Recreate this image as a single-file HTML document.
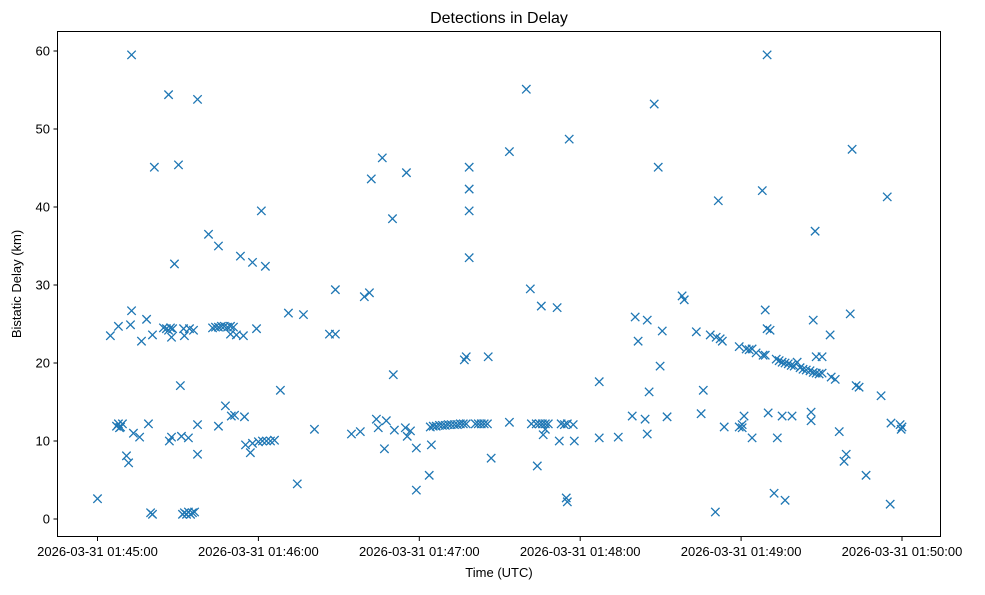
<!DOCTYPE html>
<html><head><meta charset="utf-8"><style>
html,body{margin:0;padding:0;background:#fff;}
svg text{font-family:"Liberation Sans","DejaVu Sans",sans-serif;fill:#000;}
</style></head><body>
<svg id="chart" width="985" height="590" viewBox="0 0 985 590" xmlns="http://www.w3.org/2000/svg">
<rect width="985" height="590" fill="#fff"/>
<text x="499" y="23" font-size="16" text-anchor="middle">Detections in Delay</text>
<g id="marks"></g>
<rect x="57.5" y="31.5" width="883" height="505" fill="none" stroke="#000" stroke-width="1"/>
<g id="xticks"></g>
<g id="yticks"></g>
<text x="499" y="577" font-size="13" text-anchor="middle">Time (UTC)</text>
<text x="0" y="0" font-size="13" text-anchor="middle" transform="translate(21,284) rotate(-90)">Bistatic Delay (km)</text>
</svg>
<script>
// seconds after 2026-03-31 01:45:00
const times = [0.0,4.8,7.8,7.1,7.8,8.6,9.3,8.2,10.8,11.6,12.7,12.7,12.3,13.4,15.7,16.4,18.3,19.0,19.8,20.5,21.2,20.5,24.6,25.7,26.5,27.2,28.0,26.5,26.8,27.6,27.6,28.7,30.2,30.9,31.3,32.1,32.4,31.7,32.4,33.2,33.9,34.7,35.4,36.2,33.9,34.3,35.8,37.3,37.3,37.3,41.4,42.9,44.0,45.1,46.2,47.3,48.5,49.6,50.7,45.1,45.1,47.7,49.6,49.9,51.1,51.8,53.3,54.4,54.8,55.2,57.0,57.8,57.8,59.3,60.0,61.1,61.5,63.0,64.5,66.0,62.6,68.2,71.2,74.5,76.8,80.9,86.5,88.7,88.7,94.7,98.0,99.5,101.4,102.1,104.0,104.7,106.2,107.0,107.7,110.0,110.3,110.7,115.2,114.8,115.5,116.7,118.9,118.9,123.7,124.5,124.1,125.2,126.3,127.5,128.6,129.7,130.8,131.9,133.1,134.2,135.3,136.4,137.5,136.8,137.5,138.6,138.6,138.6,138.6,140.9,142.0,143.1,144.2,145.4,145.7,146.8,153.6,153.6,159.9,161.4,161.8,164.0,163.6,164.8,165.9,167.0,168.1,165.5,166.2,167.0,171.4,172.2,172.9,174.1,175.2,177.4,174.8,175.2,175.9,177.8,187.1,187.1,194.2,199.4,200.5,201.6,204.2,205.0,205.0,205.7,207.6,209.1,209.8,210.6,212.4,218.0,218.8,223.3,225.1,225.9,228.5,230.4,230.7,231.5,232.2,233.0,233.7,239.3,239.3,240.4,241.1,240.4,241.9,243.0,244.1,244.1,245.6,247.9,248.2,249.0,249.0,249.7,249.7,250.8,250.1,252.3,253.5,253.1,254.2,255.3,256.4,257.6,258.7,259.8,260.9,262.0,263.1,264.3,265.7,266.9,268.0,269.1,270.2,255.3,256.4,259.0,266.1,266.1,266.9,267.6,268.0,270.2,273.2,273.6,275.1,276.6,278.4,279.2,280.7,281.4,282.9,284.0,286.6,292.2,294.5,295.6,295.9,299.3,299.7,300.0];
const delays = [2.6,23.5,24.7,11.9,12.2,11.8,12.2,11.7,8.1,7.2,59.5,26.7,24.9,11.0,10.5,22.8,25.6,12.2,0.8,0.6,45.1,23.6,24.5,24.4,24.2,24.5,24.4,54.4,10.0,10.5,23.3,32.7,45.4,17.1,10.6,24.4,23.5,0.6,0.8,0.6,0.9,0.6,0.8,0.9,10.4,24.4,24.2,53.8,12.1,8.3,36.5,24.5,24.6,24.6,24.7,24.7,24.6,24.7,24.6,35.0,11.9,14.5,23.7,13.2,13.3,23.6,33.7,23.5,13.1,9.5,8.5,32.9,9.7,24.4,9.9,39.5,10.0,10.0,10.0,10.1,32.4,16.5,26.4,4.5,26.2,11.5,23.7,23.7,29.4,10.9,11.2,28.5,29.0,43.6,12.8,11.7,46.3,9.0,12.6,38.5,18.5,11.4,44.4,11.7,10.6,11.3,9.1,3.7,5.6,9.5,11.8,11.9,11.9,12.0,12.0,12.0,12.1,12.1,12.1,12.1,12.2,12.2,12.2,20.4,20.8,45.1,42.3,39.5,33.5,12.2,12.2,12.2,12.2,12.2,20.8,7.8,47.1,12.4,55.1,29.5,12.2,6.8,12.2,12.2,12.2,12.2,12.2,27.3,10.8,11.5,27.1,10.0,12.2,12.1,12.2,12.1,2.7,2.2,48.7,10.0,17.6,10.4,10.5,13.2,25.9,22.8,12.8,25.5,10.9,16.3,53.2,45.1,19.6,24.1,13.1,28.6,28.1,24.0,13.5,16.5,23.6,0.9,23.3,40.8,23.1,22.8,11.8,22.1,11.8,12.1,13.2,11.7,21.8,21.7,21.8,10.4,21.3,42.1,21.0,21.0,26.8,59.5,24.4,24.2,13.6,3.3,10.4,20.5,20.3,20.1,20.0,19.9,19.7,19.6,20.1,19.4,19.2,19.1,19.0,18.8,18.7,18.6,18.7,13.2,2.4,13.2,13.7,12.6,25.5,36.9,20.8,20.8,23.6,18.2,17.9,11.2,7.4,8.3,26.3,47.4,17.1,16.9,5.6,15.8,41.3,1.9,12.3,12.1,11.5,11.8];
const xTickValues = [0,60,120,180,240,300];
const xTickLabels = ["2026-03-31 01:45:00","2026-03-31 01:46:00","2026-03-31 01:47:00","2026-03-31 01:48:00","2026-03-31 01:49:00","2026-03-31 01:50:00"];
const yTickValues = [0,10,20,30,40,50,60];

const NS = "http://www.w3.org/2000/svg";
function xScale(s){ return 97.5 + s * (902 - 97.5) / 300; }
function yScale(k){ return 519 - k * (519 - 51) / 60; }

const marks = document.getElementById('marks');
for (let i = 0; i < times.length; i++) {
  const cx = xScale(times[i]), cy = yScale(delays[i]), r = 4.2;
  const p = document.createElementNS(NS, 'path');
  p.setAttribute('d', `M${cx-r},${cy-r}L${cx+r},${cy+r}M${cx-r},${cy+r}L${cx+r},${cy-r}`);
  p.setAttribute('stroke', '#1f77b4');
  p.setAttribute('stroke-width', '1.3');
  p.setAttribute('fill', 'none');
  
  
  marks.appendChild(p);
}
const xg = document.getElementById('xticks');
for (let i = 0; i < xTickValues.length; i++) {
  const x = xScale(xTickValues[i]);
  const l = document.createElementNS(NS, 'line');
  l.setAttribute('x1', x); l.setAttribute('x2', x); l.setAttribute('y1', 537); l.setAttribute('y2', 541);
  l.setAttribute('stroke', '#000');
  
  
  xg.appendChild(l);
  const t = document.createElementNS(NS, 'text');
  t.setAttribute('x', x); t.setAttribute('y', 556);
  t.setAttribute('font-size', '13'); t.setAttribute('text-anchor', 'middle');
  t.textContent = xTickLabels[i];
  
  
  xg.appendChild(t);
}
const yg = document.getElementById('yticks');
for (let i = 0; i < yTickValues.length; i++) {
  const y = yScale(yTickValues[i]);
  const l = document.createElementNS(NS, 'line');
  l.setAttribute('x1', 53.5); l.setAttribute('x2', 57.5); l.setAttribute('y1', y); l.setAttribute('y2', y);
  l.setAttribute('stroke', '#000');
  
  
  yg.appendChild(l);
  const t = document.createElementNS(NS, 'text');
  t.setAttribute('x', 50); t.setAttribute('y', y + 4.5);
  t.setAttribute('font-size', '13'); t.setAttribute('text-anchor', 'end');
  t.textContent = String(yTickValues[i]);
  
  
  yg.appendChild(t);
}
</script>
</body></html>
